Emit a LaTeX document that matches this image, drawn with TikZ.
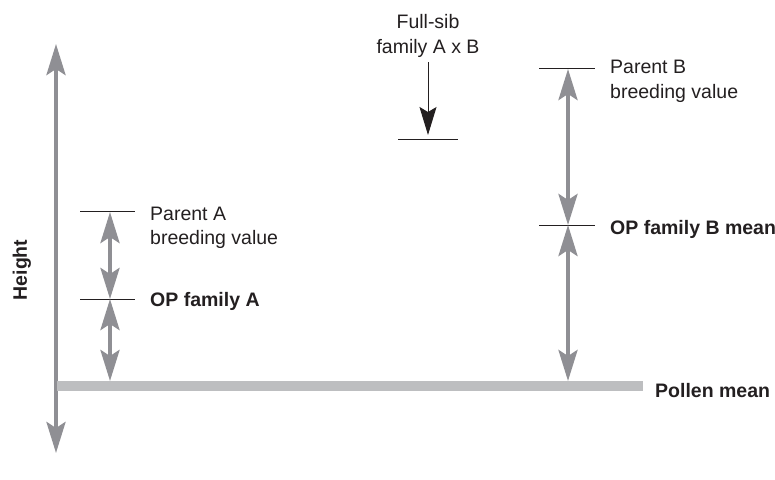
\documentclass[tikz,border=0pt]{standalone}
\usepackage{fontspec}
\setmainfont{Liberation Sans}
\usetikzlibrary{arrows.meta}
\definecolor{txt}{HTML}{231F20}
\definecolor{arr}{HTML}{8F8F94}
\definecolor{bar}{HTML}{BDBEC0}
\begin{document}
\begin{tikzpicture}[x=1pt,y=-1pt,
  lab/.style={font=\fontsize{19.5}{24}\selectfont, text=txt, inner sep=0pt},
  blab/.style={lab, font=\fontsize{19.5}{24}\selectfont\bfseries},
  tick/.style={draw=txt, line width=1pt},
  darr/.style={draw=arr, line width=4pt, {Stealth[length=31pt,width=19pt,inset=6pt]}-{Stealth[length=31pt,width=19pt,inset=6pt]}},
  farr/.style={draw=txt, line width=1pt, -{Stealth[length=28pt,width=17pt,inset=5pt]}}]
\useasboundingbox (0,0) rectangle (775,479);
% axis
\coordinate (axtop) at (56,44);
\coordinate (axbot) at (56,453);
\draw[darr] (axbot) -- (axtop);
% pollen bar
\coordinate (pb1) at (57,386);
\coordinate (pb2) at (643,386);
\draw[draw=bar, line width=10pt] (pb1) -- (pb2);
\node[blab, anchor=base west] (pollen) at (655,397) {Pollen mean};
\node[blab, rotate=90] (height) at (22,270) {Height};
% family A
\coordinate (pa1) at (80,211); \coordinate (pa2) at (135,211);
\coordinate (oa1) at (80,299); \coordinate (oa2) at (135,299);
\draw[tick] (pa1) -- (pa2);
\draw[tick] (oa1) -- (oa2);
\coordinate (aTop) at (110,212);
\coordinate (aMid) at (110,299);
\coordinate (aBot) at (110,381);
\draw[darr] (aTop) -- (aMid);
\draw[darr] (aMid) -- (aBot);
\node[lab, anchor=base west] (parA) at (150,220) {Parent A};
\node[lab, anchor=base west] (bvA) at (150,244) {breeding value};
\node[blab, anchor=base west] (opA) at (150,306) {OP family A};
% family B
\coordinate (pb1t) at (539,68); \coordinate (pb2t) at (595,68);
\coordinate (ob1) at (539,225); \coordinate (ob2) at (595,225);
\draw[tick] (pb1t) -- (pb2t);
\draw[tick] (ob1) -- (ob2);
\coordinate (bTop) at (568,69);
\coordinate (bMid) at (568,225);
\coordinate (bBot) at (568,381);
\draw[darr] (bTop) -- (bMid);
\draw[darr] (bMid) -- (bBot);
\node[lab, anchor=base west] (parB) at (610,73) {Parent B};
\node[lab, anchor=base west] (bvB) at (610,98) {breeding value};
\node[blab, anchor=base west] (opB) at (610,234) {OP family B mean};
% full-sib
\node[lab, anchor=base] (fs1) at (428,28) {Full-sib};
\node[lab, anchor=base] (fs2) at (428,53) {family A x B};
\coordinate (fsTop) at (428,62);
\coordinate (fsTip) at (428,135);
\draw[farr] (fsTop) -- (fsTip);
\coordinate (fl1) at (398,139); \coordinate (fl2) at (458,139);
\draw[tick] (fl1) -- (fl2);
\end{tikzpicture}
\end{document}
